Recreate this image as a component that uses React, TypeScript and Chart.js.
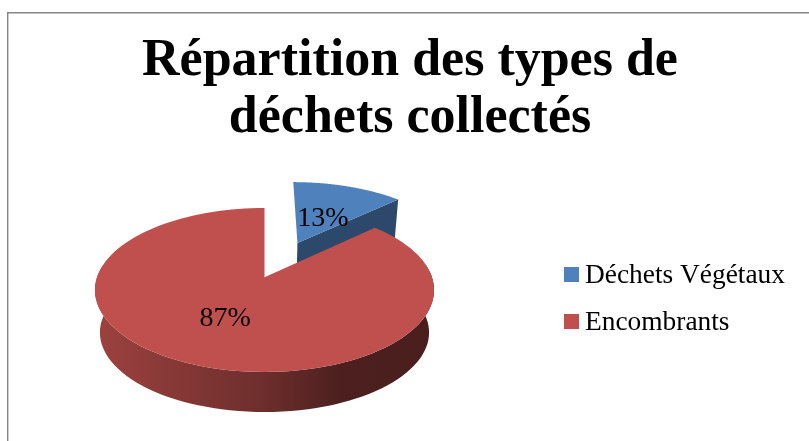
import React, { useEffect, useRef } from "react";
import { Chart, registerables } from "chart.js";

Chart.register(...registerables);

const categories = ["Déchets Végétaux", "Encombrants"];
const shares = [13, 87];
const sliceColors = ["#4F81BD", "#C0504D"];
const explode = [0.5, 0];
const explodeNudgeU = [0.012, 0];
const labelOffsetU = [0.183, -0.218];
const labelOffsetV = [-0.37, 0.477];

const TITLE_LINES = ["Répartition des types de", "déchets collectés"];
const SERIF = "'Liberation Serif', serif";
const LEGEND_SWATCH = 15;

// perspective used to lay the flat pie on the table
const CX = 264.5;
const CY = 277.3;
const AX = 167.5;
const BY = 80;
const K = 0.155;
const DEPTH_T = 0.0293;
const VPX = 264;
const VPY = 1738;

type P = [number, number];
const project = (u: number, v: number): P => {
  const w = 1 - K * v;
  return [CX + (AX * u) / w, CY + (BY * v) / w];
};
const drop = (p: P): P => [p[0] + (VPX - p[0]) * DEPTH_T, p[1] + (VPY - p[1]) * DEPTH_T];

const trace = (ctx: CanvasRenderingContext2D, pts: P[]) => {
  ctx.beginPath();
  pts.forEach((p, i) => (i ? ctx.lineTo(p[0], p[1]) : ctx.moveTo(p[0], p[1])));
  ctx.closePath();
};

const shade = (hex: string, f: number) => {
  const n = parseInt(hex.slice(1), 16);
  const c = [(n >> 16) & 255, (n >> 8) & 255, n & 255].map((x) => Math.round(x * f));
  return `rgb(${c[0]},${c[1]},${c[2]})`;
};

const pie3d = {
  id: "pie3d",
  beforeDraw(chart: any) {
    const { ctx } = chart;
    ctx.save();
    ctx.strokeStyle = "#868686";
    ctx.lineWidth = 1.4;
    ctx.beginPath();
    ctx.moveTo(7.7, 441);
    ctx.lineTo(7.7, 12.7);
    ctx.lineTo(809, 12.7);
    ctx.stroke();
    ctx.restore();
  },
  beforeDatasetDraw() {
    return false;
  },
  afterDatasetsDraw(chart: any) {
    const { ctx } = chart;
    const meta = chart.getDatasetMeta(0);
    const total = shares.reduce((a, b) => a + b, 0);
    ctx.save();
    meta.data.forEach((el: any, i: number) => {
      const { startAngle, endAngle } = el;
      const mid = (startAngle + endAngle) / 2;
      const ou = explode[i] * Math.cos(mid) + explodeNudgeU[i];
      const ov = explode[i] * Math.sin(mid);
      const steps = 120;
      const rim: P[] = [];
      const frontRim: P[] = [];
      for (let s = 0; s <= steps; s++) {
        const a = startAngle + ((endAngle - startAngle) * s) / steps;
        const p = project(ou + Math.cos(a), ov + Math.sin(a));
        rim.push(p);
        if (Math.sin(a) > -0.2) frontRim.push(p);
      }
      const apex = project(ou, ov);
      const color = sliceColors[i];

      // rim wall, lit from the left; only the part turned toward the viewer
      if (frontRim.length > 1) {
        const g = ctx.createLinearGradient(94, 0, 433, 0);
        g.addColorStop(0, shade(color, 0.82));
        g.addColorStop(0.5, shade(color, 0.57));
        g.addColorStop(0.72, shade(color, 0.4));
        g.addColorStop(1, shade(color, 0.38));
        ctx.fillStyle = g;
        trace(ctx, [...frontRim, ...frontRim.map(drop).reverse()]);
        ctx.fill();
      }

      // cut walls, only those turned toward the viewer
      ctx.fillStyle = shade(color, 0.56);
      if (Math.sin(startAngle - Math.PI / 2) > 0.01) {
        trace(ctx, [apex, rim[0], drop(rim[0]), drop(apex)]);
        ctx.fill();
      }
      if (Math.sin(endAngle + Math.PI / 2) > 0.01) {
        trace(ctx, [apex, rim[steps], drop(rim[steps]), drop(apex)]);
        ctx.fill();
      }

      // top face
      ctx.fillStyle = color;
      trace(ctx, [apex, ...rim]);
      ctx.fill();
    });

    // percentage labels
    ctx.fillStyle = "#000";
    ctx.font = `28px ${SERIF}`;
    ctx.textAlign = "center";
    ctx.textBaseline = "middle";
    meta.data.forEach((el: any, i: number) => {
      const mid = (el.startAngle + el.endAngle) / 2;
      const p = project(
        explode[i] * Math.cos(mid) + explodeNudgeU[i] + labelOffsetU[i],
        explode[i] * Math.sin(mid) + labelOffsetV[i]
      );
      ctx.fillText(`${Math.round((shares[i] / total) * 100)}%`, p[0], p[1]);
    });
    ctx.restore();
  },
  afterDraw(chart: any) {
    // the legend's native gap to its text is fixed: widen the native swatch here
    const { ctx, legend } = chart;
    ctx.save();
    legend.legendHitBoxes.forEach((hb: any, i: number) => {
      ctx.fillStyle = sliceColors[i];
      ctx.fillRect(hb.left, hb.top + (hb.height - LEGEND_SWATCH) / 2 - 1, LEGEND_SWATCH, LEGEND_SWATCH);
    });
    ctx.restore();
  },
};

export default function App() {
  const ref = useRef<HTMLCanvasElement>(null);
  useEffect(() => {
    const chart = new Chart(ref.current!, {
      type: "pie",
      data: {
        labels: categories,
        datasets: [{ data: shares, backgroundColor: sliceColors, borderWidth: 0 }],
      },
      options: {
        animation: false,
        responsive: false,
        layout: { padding: { left: 25, right: 14, top: 33, bottom: -124 } },
        plugins: {
          title: {
            display: true,
            text: TITLE_LINES,
            color: "#000",
            font: { family: SERIF, size: 52, weight: "bold", lineHeight: 1.1 },
            padding: 0,
          },
          legend: {
            position: "right",
            labels: {
              color: "#000",
              font: { family: SERIF, size: 27.4 },
              boxWidth: 7.3,
              boxHeight: 12,
              padding: 19.6,
            },
          },
          tooltip: { enabled: false },
        },
      },
      plugins: [pie3d],
    } as any);
    return () => chart.destroy();
  }, []);
  return (
    <div style={{ position: "fixed", left: 0, top: 0 }}>
      <canvas ref={ref} width={809} height={441} style={{ display: "block" }} />
    </div>
  );
}
